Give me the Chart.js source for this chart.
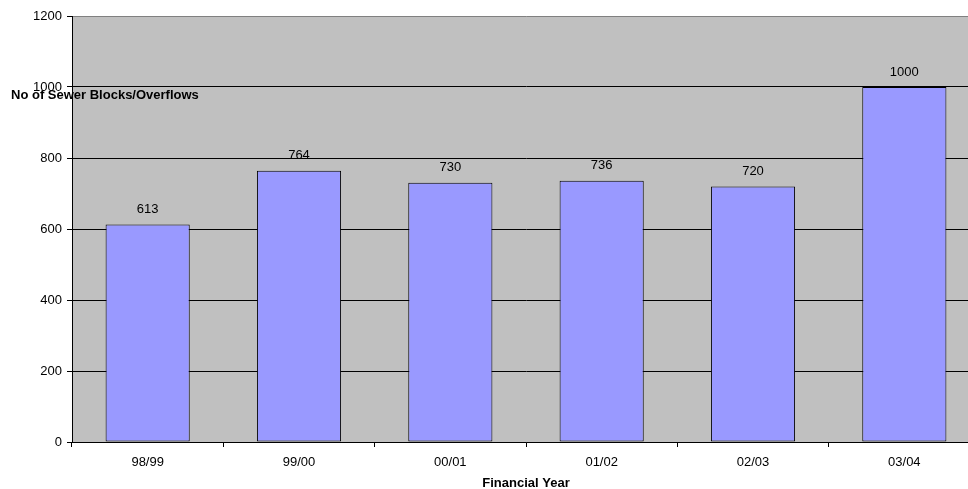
<!DOCTYPE html>
<html>
<head>
<meta charset="utf-8">
<script src="https://cdn.jsdelivr.net/npm/chart.js@4/dist/chart.umd.min.js"></script>
<style>
  html, body { margin: 0; padding: 0; background: #fff; overflow: hidden; }
  #wrap { width: 980px; height: 489px; position: relative; }
</style>
</head>
<body>
<div id="wrap"><canvas id="c"></canvas></div>
<script>
// Sewer blocks / overflows per financial year
const years = ['98/99', '99/00', '00/01', '01/02', '02/03', '03/04'];
const blockages = [613, 764, 730, 736, 720, 1000];
const yTicks = [0, 200, 400, 600, 800, 1000, 1200];

const yTitle = 'No of Sewer Blocks/Overflows';
const xTitle = 'Financial Year';

const FONT = 'Arial, "Liberation Sans", sans-serif';
const SIZE = 13;

// Grey plot background, value labels and the two axis titles
const decor = {
  id: 'decor',
  beforeDraw(chart) {
    const { ctx, chartArea: a } = chart;
    ctx.save();
    ctx.fillStyle = '#C0C0C0';
    ctx.fillRect(a.left, a.top, a.right - a.left, a.bottom - a.top);
    ctx.restore();
  },
  afterDatasetsDraw(chart) {
    const { ctx, chartArea: a } = chart;
    const meta = chart.getDatasetMeta(0);
    ctx.save();
    ctx.font = SIZE + 'px ' + FONT;
    ctx.fillStyle = '#000';
    ctx.textAlign = 'center';
    ctx.textBaseline = 'middle';
    meta.data.forEach((bar, i) => {
      ctx.fillText(String(blockages[i]), bar.x, bar.y - 15);
    });
    ctx.font = 'bold ' + SIZE + 'px ' + FONT;
    ctx.textAlign = 'left';
    ctx.fillText(yTitle, 11, 95);
    ctx.textAlign = 'center';
    ctx.fillText(xTitle, (a.left + a.right) / 2, 483);
    ctx.restore();
  }
};

new Chart(document.getElementById('c'), {
  type: 'bar',
  data: {
    labels: years,
    datasets: [{
      data: blockages,
      backgroundColor: '#9999FF',
      borderColor: '#000000',
      borderWidth: 1,
      borderSkipped: false,
      categoryPercentage: 1,
      barPercentage: 0.556
    }]
  },
  options: {
    responsive: true,
    maintainAspectRatio: false,
    animation: false,
    events: [],
    layout: { padding: { left: 0, right: 0, top: 16, bottom: 0 } },
    plugins: { legend: { display: false }, tooltip: { enabled: false } },
    scales: {
      x: {
        offset: true,
        grid: {
          offset: true,
          drawOnChartArea: false,
          drawTicks: true,
          tickLength: 5,
          color: '#000'
        },
        border: { display: true, color: '#000', width: 1 },
        ticks: { font: { family: FONT, size: SIZE }, color: '#000', padding: 8, maxRotation: 0 },
        afterFit(s) { s.height = 47; }
      },
      y: {
        min: 0,
        max: 1200,
        afterBuildTicks(s) { s.ticks = yTicks.map(v => ({ value: v })); },
        grid: {
          color: c => (c.tick && c.tick.value === 1200 ? '#808080' : '#000'),
          tickColor: '#000',
          tickLength: 5,
          drawTicks: true
        },
        border: { display: true, color: '#000', width: 1 },
        ticks: {
          font: { family: FONT, size: SIZE },
          color: '#000',
          padding: 5,
          callback: v => String(v)
        },
        afterFit(s) { s.width = 72; }
      }
    }
  },
  plugins: [decor]
});
</script>
</body>
</html>
